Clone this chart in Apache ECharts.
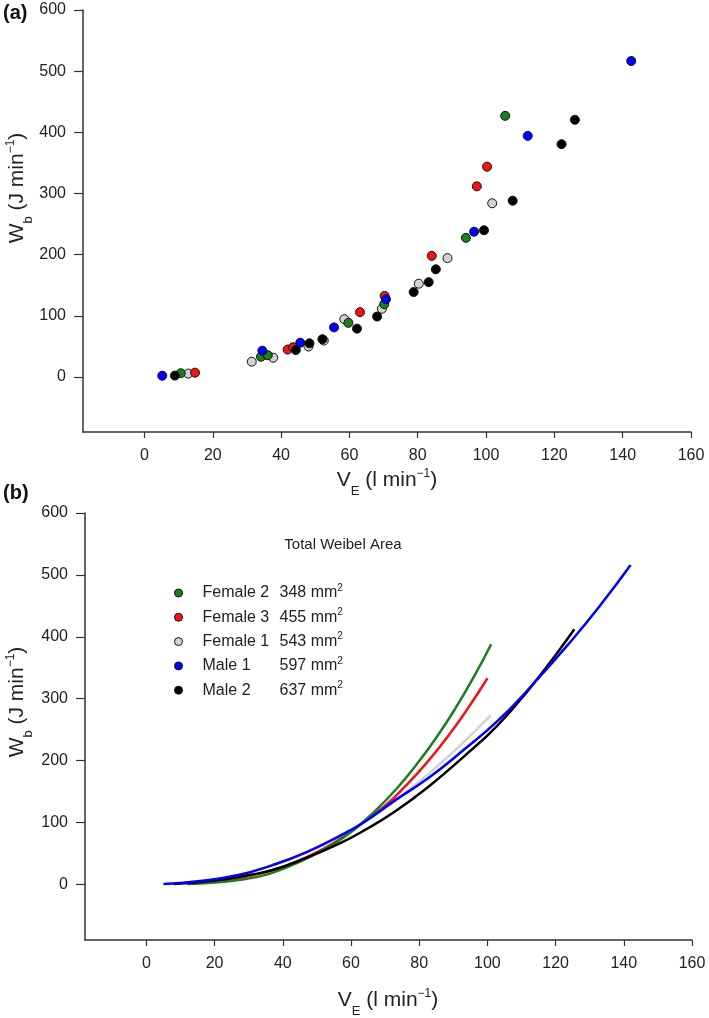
<!DOCTYPE html>
<html>
<head>
<meta charset="utf-8">
<script src="https://cdn.jsdelivr.net/npm/echarts@6/dist/echarts.min.js"></script>
<style>
  html, body { margin: 0; padding: 0; background: #fff; }
  #chart { width: 709px; height: 1018px; }
</style>
</head>
<body>
<div id="chart"></div>
<script>
// ---- tick labels ----
const xTicks = [0, 20, 40, 60, 80, 100, 120, 140, 160];
const yTicks = [0, 100, 200, 300, 400, 500, 600];

// ---- legend (panel b) ----
const subjects = ['Female 2', 'Female 3', 'Female 1', 'Male 1', 'Male 2'];
const weibelArea = [348, 455, 543, 597, 637];
const colors = ['#1b7f1b', '#f01414', '#d2d2d2', '#0000ff', '#000000'];

// ---- panel (a): measured points, VE (l/min) and Wb (J/min) ----
const female2VE = [10.6, 34.1, 36.1, 59.7, 70.2, 94.1, 105.6];
const female2Wb = [6, 33, 35.5, 88.5, 119, 227.5, 427];
const female3VE = [14.8, 41.9, 43.5, 63.1, 70.3, 84.1, 97.3, 100.3];
const female3Wb = [7, 44.8, 48.5, 106, 132.5, 198, 311.7, 343.8];
const female1VE = [12.8, 31.4, 37.7, 48.0, 52.5, 58.5, 69.5, 80.3, 88.7, 101.8];
const female1Wb = [5.5, 25, 31.5, 49.8, 59.5, 94.5, 111.5, 152.5, 194.3, 284];
const male1VE = [5.2, 34.5, 45.6, 55.5, 70.7, 96.5, 112.2, 142.5];
const male1Wb = [2, 43, 56, 81, 127, 237.5, 394.2, 516.6];
const male2VE = [8.9, 44.3, 48.3, 52.1, 62.2, 68.1, 78.8, 83.2, 85.3, 99.4, 107.8, 122.1, 126.0];
const male2Wb = [2.2, 44, 55, 61.8, 79, 98.8, 138.8, 155, 176, 239.8, 288.2, 380.6, 420.5];

// ---- panel (b): fitted curves ----
const fitFemale2VE = [12, 20, 32.7, 41, 50, 56, 61.7, 67, 73.3, 79, 84.9, 90.7, 96.5, 101.1];
const fitFemale2Wb = [0.5, 3, 12, 27, 50, 69, 92, 118, 154, 192, 236, 285, 340, 388];
const fitFemale3VE = [14.7, 22, 30, 40, 47, 55, 63, 70, 76, 82, 88, 94, 100];
const fitFemale3Wb = [2, 5, 13, 28, 44, 67, 97, 127, 159, 195, 236, 282, 333];
const fitFemale1VE = [12.7, 20, 30, 40, 50, 60, 70, 80, 90, 101];
const fitFemale1Wb = [3, 7, 19, 36, 59, 88, 123, 166, 214, 273];
const fitMale1VE = [5, 15, 27, 37, 47, 57, 64, 73, 83, 93, 103, 112.5, 125, 133, 142];
const fitMale1Wb = [0.5, 5, 15, 31, 52, 79, 101, 136, 173, 217, 264, 318, 396, 450, 516];
const fitMale2VE = [8, 20, 30, 37, 47, 57, 64, 73, 83, 93, 103, 112.5, 121, 125.5];
const fitMale2Wb = [0.5, 6, 15, 23, 43, 67, 87.5, 118, 159, 206, 257, 317, 378, 412];

const zip = (a, b) => a.map((v, i) => [v, b[i]]);

const pointSets = {
  'Female 1': [female1VE, female1Wb],
  'Female 3': [female3VE, female3Wb],
  'Female 2': [female2VE, female2Wb],
  'Male 2': [male2VE, male2Wb],
  'Male 1': [male1VE, male1Wb]
};
const fitSets = {
  'Female 1': [fitFemale1VE, fitFemale1Wb],
  'Female 3': [fitFemale3VE, fitFemale3Wb],
  'Female 2': [fitFemale2VE, fitFemale2Wb],
  'Male 2': [fitMale2VE, fitMale2Wb],
  'Male 1': [fitMale1VE, fitMale1Wb]
};
const colorOf = name => colors[subjects.indexOf(name)];
const drawOrder = ['Female 1', 'Female 3', 'Female 2', 'Male 2', 'Male 1'];

const axisColor = '#333';
const textColor = '#222';
const baseFont = 'Liberation Sans, Arial, sans-serif';

function xAxis(gridIndex) {
  return {
    type: 'value', gridIndex, min: -18, max: 160,
    axisLine: { show: true, onZero: false, lineStyle: { color: axisColor, width: 1.5 } },
    axisTick: { show: true, length: 6, customValues: xTicks, lineStyle: { color: axisColor, width: 1.2 } },
    axisLabel: { customValues: xTicks, margin: 16, fontSize: 16, color: textColor, fontFamily: baseFont },
    splitLine: { show: false }
  };
}
function yAxis(gridIndex) {
  return {
    type: 'value', gridIndex, min: -90, max: 600,
    axisLine: { show: true, onZero: false, lineStyle: { color: axisColor, width: 1.5 } },
    axisTick: { show: true, length: 9, customValues: yTicks, lineStyle: { color: axisColor, width: 1.2 } },
    axisLabel: { customValues: yTicks, margin: 17, fontSize: 16, color: textColor, fontFamily: baseFont },
    splitLine: { show: false }
  };
}

const titleRich = {
  sub: { fontSize: 13, verticalAlign: 'bottom', lineHeight: 13, fontFamily: baseFont, fill: textColor, padding: [0, 0, -6, 0] },
  sup: { fontSize: 12, verticalAlign: 'top', lineHeight: 12, fontFamily: baseFont, fill: textColor },
  m: { fontSize: 21, lineHeight: 24, fontFamily: baseFont, fill: textColor }
};
function titleText(x, y, text, rotate) {
  return {
    type: 'text', x, y, rotation: rotate ? Math.PI / 2 : 0,
    style: { text, rich: titleRich, fontSize: 21, fontFamily: baseFont, fill: textColor, align: 'center', verticalAlign: 'middle' }
  };
}

const series = [];
drawOrder.forEach(name => {
  const [vx, vy] = pointSets[name];
  series.push({
    name, type: 'scatter', xAxisIndex: 0, yAxisIndex: 0,
    data: zip(vx, vy), symbol: 'circle', symbolSize: 9,
    itemStyle: { color: colorOf(name), borderColor: '#111', borderWidth: 1, opacity: 1 },
    emphasis: { disabled: true }
  });
});
drawOrder.forEach(name => {
  const [fx, fy] = fitSets[name];
  series.push({
    name, type: 'line', xAxisIndex: 1, yAxisIndex: 1,
    data: zip(fx, fy), smooth: 0.5, showSymbol: false, symbol: 'none',
    lineStyle: { color: colorOf(name), width: 2.5 },
    itemStyle: { color: colorOf(name) },
    emphasis: { disabled: true }
  });
});

const option = {
  animation: false,
  backgroundColor: '#fff',
  grid: [
    { left: 83, top: 10, width: 608, height: 422 },
    { left: 85, top: 513, width: 607, height: 427 }
  ],
  xAxis: [xAxis(0), xAxis(1)],
  yAxis: [yAxis(0), yAxis(1)],
  legend: {
    data: subjects.map(n => ({ name: n, icon: 'circle', itemStyle: { color: colorOf(n), borderColor: '#111', borderWidth: 1 } })),
    orient: 'vertical', left: 174, top: 583, padding: 0,
    itemWidth: 8, itemHeight: 9, itemGap: 6.3,
    selectedMode: false,
    formatter: name => '{n|' + name + '}{v|' + weibelArea[subjects.indexOf(name)] + ' mm}{s|2}',
    textStyle: {
      rich: {
        n: { fontSize: 16, lineHeight: 20, width: 77, padding: [0, 0, 0, 15], fontFamily: baseFont, color: textColor },
        v: { fontSize: 16, lineHeight: 20, fontFamily: baseFont, color: textColor },
        s: { fontSize: 10, lineHeight: 20, verticalAlign: 'top', fontFamily: baseFont, color: textColor }
      }
    }
  },
  graphic: [
    { type: 'text', x: 3, y: 13, style: { text: '(a)', fontSize: 20, fontWeight: 'bold', fontFamily: baseFont, fill: '#111', verticalAlign: 'middle' } },
    { type: 'text', x: 3, y: 493, style: { text: '(b)', fontSize: 20, fontWeight: 'bold', fontFamily: baseFont, fill: '#111', verticalAlign: 'middle' } },
    titleText(387, 480, '{m|V}{sub|E}{m| (l min}{sup|−1}{m|)}', false),
    titleText(388, 1000, '{m|V}{sub|E}{m| (l min}{sup|−1}{m|)}', false),
    titleText(17, 188, '{m|W}{sub|b}{m| (J min}{sup|−1}{m|)}', true),
    titleText(17, 702, '{m|W}{sub|b}{m| (J min}{sup|−1}{m|)}', true),
    { type: 'text', x: 343, y: 545, style: { text: 'Total Weibel Area', fontSize: 15, fontFamily: baseFont, fill: textColor, align: 'center', verticalAlign: 'middle' } }
  ],
  series
};

const chart = echarts.init(document.getElementById('chart'), null, { renderer: 'canvas' });
chart.setOption(option);
</script>
</body>
</html>
